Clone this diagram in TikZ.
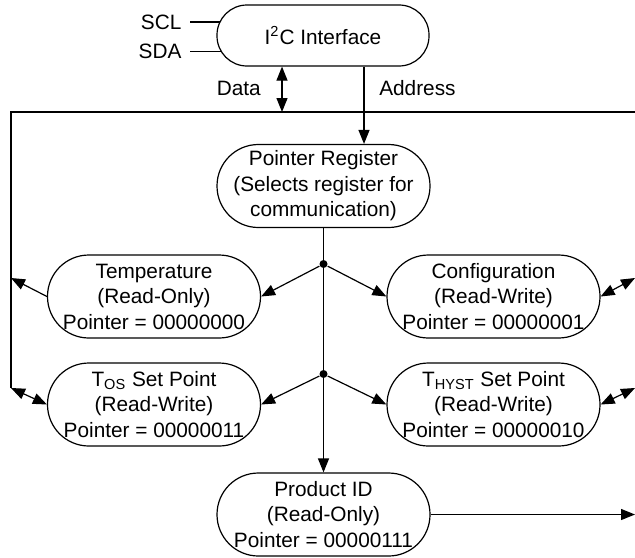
\documentclass[tikz,border=0pt]{standalone}
\usepackage{fontspec}
\setmainfont{Liberation Sans}
\usetikzlibrary{calc,shapes,arrows.meta}

\begin{document}
\begin{tikzpicture}[x=0.5pt, y=-0.5pt, line width=0.6pt,
		>={Triangle[length=7pt,width=5.5pt]},
		every node/.style={font=\fontsize{10.4pt}{12.75pt}\selectfont},
		reg/.style={draw, align=center, minimum width=106.5pt, minimum height=41.5pt, rounded corners=20.7pt, inner sep=0pt},
		lbl/.style={inner xsep=4pt, inner ysep=0pt},
		dot/.style={circle, fill, inner sep=0pt, minimum size=4pt}]
		\useasboundingbox (0, 0) rectangle (635, 557);

		\draw (323, 35.5) node[reg, minimum width=106pt, minimum height=30.5pt, rounded corners=15pt] (i2c) {I\textsuperscript{2}C Interface};
		\draw (190, 22) node[lbl, anchor=east] (scl) {SCL};
		\draw (190, 51.5) node[lbl, anchor=east] (sda) {SDA};
		\coordinate (sclend) at (220, 22);
		\coordinate (sdaend) at (221.5, 51.5);
		\draw (scl) -- (sclend);
		\draw (sda) -- (sdaend);

		\draw (323.5, 186) node[reg] (ptr) {Pointer Register\\(Selects register for\\communication)};
		\draw (154, 296.5) node[reg] (temp) {Temperature\\(Read-Only)\\Pointer = 00000000};
		\draw (493.5, 296.5) node[reg] (conf) {Configuration\\(Read-Write)\\Pointer = 00000001};
		\draw (154, 404.5) node[reg] (tos) {T\textsubscript{OS} Set Point\\(Read-Write)\\Pointer = 00000011};
		\draw (493.5, 404.5) node[reg] (thyst) {T\textsubscript{HYST} Set Point\\(Read-Write)\\Pointer = 00000010};
		\draw (323.5, 514.5) node[reg] (prod) {Product ID\\(Read-Only)\\Pointer = 00000111};

		\coordinate (bus) at (282, 112);
		\coordinate (busR) at (635, 112);
		\coordinate (busL) at (11, 112);
		\coordinate (busB) at (11, 388);
		\coordinate (addrx) at (364, 0);
		\draw (busR) -- (busL) -- (busB);
		\draw[<->] (i2c.south -| bus) -- (bus);
		\draw[->] (i2c.south -| addrx) -- (ptr.north -| addrx);
		\draw (268, 88) node[anchor=east] (data) {Data};
		\draw (372, 88) node[anchor=west] (addr) {Address};

		\draw (ptr.south |- 0, 264) node[dot] (d1) {};
		\draw (ptr.south |- 0, 374) node[dot] (d2) {};
		\draw[->] (ptr.south) -- (prod.north);
		\draw[->] (d1) -- (temp.east);
		\draw[->] (d1) -- (conf.west);
		\draw[->] (d2) -- (tos.east);
		\draw[->] (d2) -- (thyst.west);

		\coordinate (tempout) at (11, 278);
		\coordinate (confout) at (635, 278);
		\coordinate (thystout) at (635, 388);
		\coordinate (prodout) at (635, 514.5);
		\draw[->] (temp.west) -- (tempout);
		\draw[<->] (tos.west) -- (busB);
		\draw[<->] (conf.east) -- (confout);
		\draw[<->] (thyst.east) -- (thystout);
		\draw[->] (prod.east) -- (prodout);
	\end{tikzpicture}
\end{document}
